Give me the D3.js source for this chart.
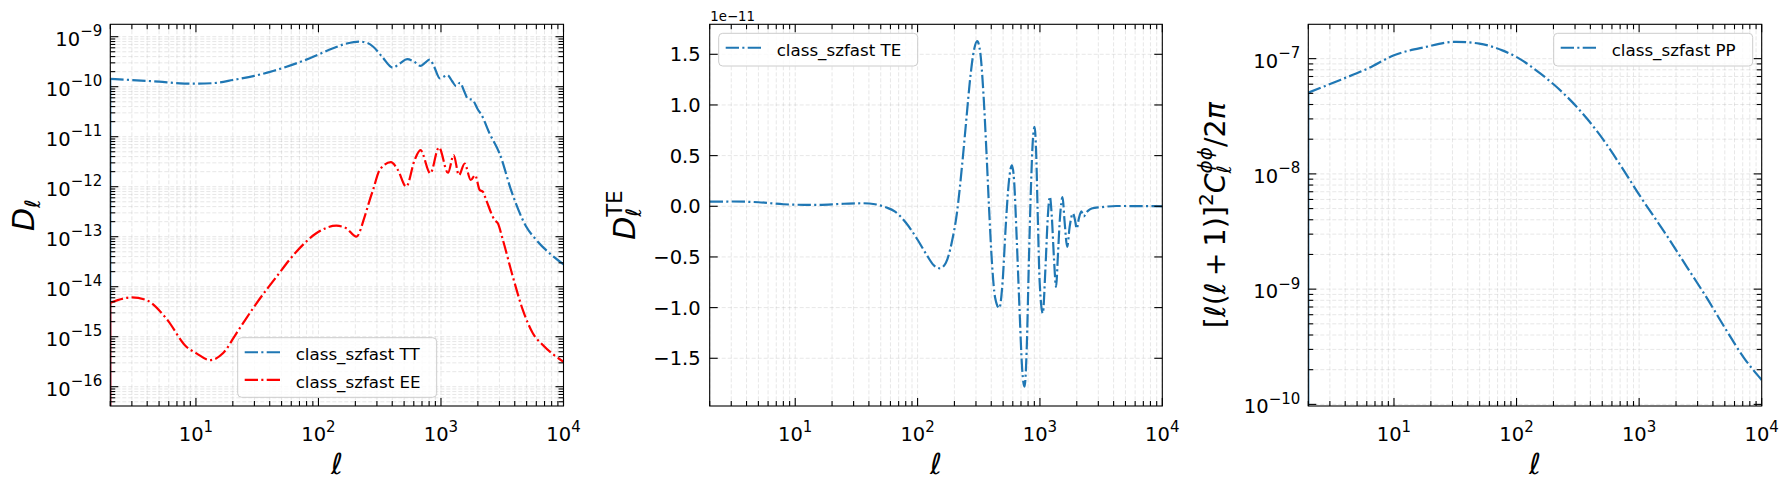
<!DOCTYPE html>
<html><head><meta charset="utf-8">
<script src="https://cdn.jsdelivr.net/npm/d3@7"></script>
<style>
body{margin:0;background:#fff}
svg{display:block;background:#fff}
text{font-family:"DejaVu Sans",sans-serif;fill:#000}
</style>
</head><body>
<svg id="c" width="1789" height="489"></svg>
<script>
// ---------------- data ----------------
const xDomain = [2, 10000];
const xTickExps = [1, 2, 3, 4];

// panel 1 : D_ell TT and EE
const ttEll = [2,3,5,7.4,10.5,15,20,30,42.6,60,85,130,170,215,250,280,330,405,460,530,600,680,740,810,880,980,1060,1130,1230,1330,1430,1550,1660,1800,2000,2130,2490,3000,3800,4970,6000,7700,10000];
const ttVal = [1.43e-10,1.36e-10,1.26e-10,1.17e-10,1.15e-10,1.2e-10,1.36e-10,1.65e-10,2.06e-10,2.7e-10,3.7e-10,5.8e-10,7.3e-10,8.0e-10,7.5e-10,6.3e-10,4.0e-10,2.4e-10,2.9e-10,3.55e-10,3.2e-10,2.6e-10,3.0e-10,3.5e-10,2.5e-10,1.47e-10,1.6e-10,1.71e-10,1.3e-10,1.03e-10,1.2e-10,8e-11,5.7e-11,5.5e-11,3.5e-11,2.8e-11,1.17e-11,4.7e-12,7.5e-13,1.58e-13,8.6e-14,4.65e-14,2.8e-14];
const eeEll = [2,3,3.94,5.74,8.36,10.1,13,16.6,21.4,31.2,45.4,66,96,140,169,204,238,262,279,316,390,445,520,609,680,818,962,1140,1270,1400,1560,1750,1900,2070,2200,2340,2740,2910,3200,3860,4660,5620,6780,10000];
const eeVal = [4.8e-15,6.1e-15,5.4e-15,2.3e-15,6.3e-16,4.65e-16,3.4e-16,4.65e-16,1.17e-15,4.65e-15,1.58e-14,5e-14,1.17e-13,1.66e-13,1.47e-13,1.0e-13,2.5e-13,5.4e-13,8.6e-13,2.16e-12,3.1e-12,2.16e-12,1.0e-12,3.4e-12,5.4e-12,1.85e-12,6.1e-12,1.9e-12,4.3e-12,1.7e-12,2.9e-12,1.36e-12,1.7e-12,8.6e-13,7.9e-13,5.4e-13,2.16e-13,1.85e-13,8.6e-14,1.58e-14,3.4e-15,1.17e-15,6.8e-16,3.16e-16];
const p1YDomain = [Math.pow(10,-16.386), Math.pow(10,-8.752)];
const p1YExps = [-16,-15,-14,-13,-12,-11,-10,-9];

// panel 2 : D_ell TE (units of 1e-11)
const teEll = [2,3,5,8,14,25,35,45,55,65,80,100,120,135,152,170,190,210,230,250,270,290,307,325,345,365,385,405,430,465,495,525,555,590,615,645,680,715,748,780,810,845,875,905,930,960,995,1055,1110,1160,1205,1250,1300,1355,1400,1460,1530,1590,1670,1750,1860,1930,2000,2080,2180,2280,2400,2560,2800,3100,4200,6000,10000];
const teVal = [0.046,0.047,0.04,0.02,0.013,0.025,0.03,0.02,-0.01,-0.05,-0.16,-0.33,-0.49,-0.58,-0.612,-0.56,-0.36,-0.06,0.38,0.85,1.28,1.55,1.63,1.52,1.12,0.55,-0.05,-0.55,-0.9,-1.005,-0.75,-0.2,0.22,0.405,0.25,-0.3,-1.0,-1.6,-1.78,-1.4,-0.6,0.2,0.65,0.785,0.55,-0.1,-0.75,-1.055,-0.6,-0.1,0.095,-0.1,-0.5,-0.795,-0.5,-0.1,0.09,-0.15,-0.4,-0.2,-0.07,-0.13,-0.22,-0.12,-0.05,-0.1,-0.06,-0.03,-0.015,-0.01,0.003,0.002,0.0];
const p2YDomain = [-1.971, 1.796];
const p2YTicks = [-1.5,-1.0,-0.5,0.0,0.5,1.0,1.5];
const p2Offset = "1e\u221211";

// panel 3 : lensing potential PP
const ppEll = [2,3.69,6.1,10,18,32,49.7,76.6,102,157,243,375,538,718,1030,1708,2450,3515,5040,7230,10000];
const ppVal = [5.07e-8,6.57e-8,8.2e-8,1.07e-7,1.26e-7,1.4e-7,1.35e-7,1.18e-7,1.02e-7,7.4e-8,4.97e-8,3.02e-8,1.83e-8,1.15e-8,6.3e-9,2.84e-9,1.56e-9,8.6e-10,4.56e-10,2.5e-10,1.63e-10];
const p3YDomain = [Math.pow(10,-10.014), Math.pow(10,-6.702)];
const p3YExps = [-10,-9,-8,-7];

const legend1 = ["class_szfast TT","class_szfast EE"];
const legend2 = ["class_szfast TE"];
const legend3 = ["class_szfast PP"];

// ---------------- layout / style ----------------
const BLUE = "#1f77b4", RED = "#ff0000";
const TOP = 24.3, BOT = 406;
const panels = [{l:110.3,r:563.5},{l:709.7,r:1162.3},{l:1308.3,r:1761.7}];
const DASH = "13.3,3.3,2.1,3.3";
const TICKFS = 19.5, SUPFS = 15;
const MAJ = 8, MIN = 5;
const svg = d3.select("#c");

function logTicks(lo, hi){
  const maj=[], min=[];
  for(let e=Math.floor(Math.log10(lo)); e<=Math.ceil(Math.log10(hi)); e++){
    for(let k=1;k<=9;k++){
      const v=k*Math.pow(10,e);
      if(v>=lo*0.99999 && v<=hi*1.00001) (k===1?maj:min).push(v);
    }
  }
  return {maj,min};
}

function supTxt(e){ return (e<0?"\u2212":"")+Math.abs(e); }

function mathLabel(g, pieces){
  let x=0, lastStart=0;
  const nodes=[];
  pieces.forEach(p=>{
    const sx = p.stack ? lastStart : x + (p.padL||0);
    const t=g.append("text").attr("x",sx).attr("y",p.dy||0)
      .attr("font-size",p.fs).attr("font-style",p.it?"italic":"normal").text(p.t);
    const w=t.node().getComputedTextLength();
    if(p.stack){ x=Math.max(x,sx+w); } else { lastStart=sx; x=sx+w+(p.padR||0); }
    nodes.push(t);
  });
  nodes.forEach(t=>t.attr("x", +t.attr("x")-x/2));
}

function drawPanel(i, opt){
  const p=panels[i];
  const g=svg.append("g");
  const x=d3.scaleLog().domain(xDomain).range([p.l,p.r]);
  const y=opt.ylog ? d3.scaleLog().domain(opt.ydom).range([BOT,TOP]) : d3.scaleLinear().domain(opt.ydom).range([BOT,TOP]);
  const xt=logTicks(xDomain[0],xDomain[1]);
  let yMaj, yMin;
  if(opt.ylog){ const t=logTicks(opt.ydom[0],opt.ydom[1]); yMaj=t.maj; yMin=t.min; }
  else { yMaj=opt.yticks; yMin=[]; }

  // grid
  const grid=g.append("g").attr("stroke","#b0b0b0").attr("stroke-opacity",0.35)
     .attr("stroke-width",0.9).attr("stroke-dasharray","4,2");
  xt.maj.concat(xt.min).forEach(v=>grid.append("line").attr("x1",x(v)).attr("x2",x(v)).attr("y1",TOP).attr("y2",BOT));
  yMaj.concat(yMin).forEach(v=>grid.append("line").attr("x1",p.l).attr("x2",p.r).attr("y1",y(v)).attr("y2",y(v)));

  // lines
  const cid="clip"+i;
  svg.append("clipPath").attr("id",cid).append("rect").attr("x",p.l).attr("y",TOP).attr("width",p.r-p.l).attr("height",BOT-TOP);
  const lg=g.append("g").attr("clip-path","url(#"+cid+")");
  const line=d3.line().x(d=>x(d[0])).y(d=>y(d[1])).curve(d3.curveMonotoneX);
  opt.series.forEach(s=>{
    const pts=s.ell.map((l,k)=>[l,s.val[k]]);
    if(s.edge){
      lg.append("path").attr("d",d3.line()([[x(s.ell[0]),y(s.val[0])],[x(s.ell[0]),BOT+5]]))
        .attr("fill","none").attr("stroke",s.color).attr("stroke-width",2.08);
    }
    lg.append("path").attr("d",line(pts)).attr("fill","none").attr("stroke",s.color)
      .attr("stroke-width",2.2).attr("stroke-dasharray",DASH).attr("stroke-linejoin","round");
  });

  // ticks (direction in, all sides)
  const tk=g.append("g").attr("stroke","#000").attr("stroke-width",1.1);
  [[xt.maj,MAJ],[xt.min,MIN]].forEach(([arr,len])=>arr.forEach(v=>{
    tk.append("line").attr("x1",x(v)).attr("x2",x(v)).attr("y1",BOT).attr("y2",BOT-len);
    tk.append("line").attr("x1",x(v)).attr("x2",x(v)).attr("y1",TOP).attr("y2",TOP+len);
  }));
  [[yMaj,MAJ],[yMin,MIN]].forEach(([arr,len])=>arr.forEach(v=>{
    tk.append("line").attr("x1",p.l).attr("x2",p.l+len).attr("y1",y(v)).attr("y2",y(v));
    tk.append("line").attr("x1",p.r).attr("x2",p.r-len).attr("y1",y(v)).attr("y2",y(v));
  }));
  // frame
  g.append("rect").attr("x",p.l).attr("y",TOP).attr("width",p.r-p.l).attr("height",BOT-TOP)
    .attr("fill","none").attr("stroke","#000").attr("stroke-width",1.1);

  // x tick labels
  xTickExps.forEach(e=>{
    const t=g.append("text").attr("x",x(Math.pow(10,e))).attr("y",441).attr("text-anchor","middle").attr("font-size",TICKFS);
    t.append("tspan").text("10");
    t.append("tspan").attr("dy",-9.5).attr("font-size",SUPFS).text(supTxt(e));
  });
  // y tick labels
  if(opt.ylog){
    opt.yexps.forEach(e=>{
      const t=g.append("text").attr("x",p.l-8).attr("y",y(Math.pow(10,e))+9).attr("text-anchor","end").attr("font-size",TICKFS);
      t.append("tspan").text("10");
      t.append("tspan").attr("dy",-9.5).attr("font-size",SUPFS).text(supTxt(e));
    });
  } else {
    opt.yticks.forEach(v=>{
      g.append("text").attr("x",p.l-9).attr("y",y(v)+7.2).attr("text-anchor","end").attr("font-size",TICKFS)
        .text((v<0?"\u2212":"")+Math.abs(v).toFixed(1));
    });
  }
  // x label
  g.append("text").attr("x",(p.l+p.r)/2).attr("y",474).attr("text-anchor","middle")
    .attr("font-size",29).attr("font-style","italic").text("\u2113");
  // y label
  const yl=g.append("g").attr("transform","translate("+opt.ylabX+","+((TOP+BOT)/2)+") rotate(-90)");
  mathLabel(yl, opt.ylab);

  // legend
  const L=opt.legend;
  const lgd=g.append("g");
  lgd.append("rect").attr("x",L.x).attr("y",L.y).attr("width",199).attr("height",L.h).attr("rx",4)
    .attr("fill","#fff").attr("fill-opacity",0.8).attr("stroke","#cccccc").attr("stroke-width",1);
  L.items.forEach((it,k)=>{
    const ry=L.y+14.5+k*27.7;
    lgd.append("line").attr("x1",L.x+7).attr("x2",L.x+42.3).attr("y1",ry).attr("y2",ry)
      .attr("stroke",it.color).attr("stroke-width",2.08).attr("stroke-dasharray",DASH);
    lgd.append("text").attr("x",L.x+58).attr("y",ry+8.2).attr("font-size",16.7).text(it.label);
  });
  return {x,y,g};
}

// panel 1
drawPanel(0,{
  ylog:true, ydom:p1YDomain, yexps:p1YExps,
  series:[{ell:ttEll,val:ttVal,color:BLUE,edge:true},{ell:eeEll,val:eeVal,color:RED,edge:true}],
  ylabX:34,
  ylab:[{t:"D",it:true,fs:30},{t:"\u2113",it:true,fs:21,dy:6}],
  legend:{x:237.7,y:337.7,h:59.6,items:[{label:legend1[0],color:BLUE},{label:legend1[1],color:RED}]}
});
// panel 2
drawPanel(1,{
  ylog:false, ydom:p2YDomain, yticks:p2YTicks,
  series:[{ell:teEll,val:teVal,color:BLUE}],
  ylabX:635,
  ylab:[{t:"D",it:true,fs:30},{t:"\u2113",it:true,fs:21,dy:6},{t:"TE",fs:21,dy:-13,stack:true}],
  legend:{x:718.7,y:33.3,h:32.7,items:[{label:legend2[0],color:BLUE}]}
});
svg.append("text").attr("x",710.3).attr("y",20.7).attr("font-size",13.3).text(p2Offset);
// panel 3
drawPanel(2,{
  ylog:true, ydom:p3YDomain, yexps:p3YExps,
  series:[{ell:ppEll,val:ppVal,color:BLUE,edge:true}],
  ylabX:1225,
  ylab:[{t:"[",fs:28.5},{t:"\u2113",it:true,fs:28.5},{t:"(",fs:28.5},{t:"\u2113",it:true,fs:28.5},
        {t:"+",fs:28.5,padL:6,padR:6},{t:"1",fs:28.5},{t:")",fs:28.5},{t:"]",fs:28.5},
        {t:"2",fs:20,dy:-12.5},{t:"C",it:true,fs:28.5},{t:"\u2113",it:true,fs:20,dy:6},
        {t:"\u03d5\u03d5",it:true,fs:20,dy:-13.5,stack:true},{t:"/2",fs:28.5},{t:"\u03c0",it:true,fs:28.5}],
  legend:{x:1553.7,y:33.3,h:32.7,items:[{label:legend3[0],color:BLUE}]}
});
</script>
</body></html>
